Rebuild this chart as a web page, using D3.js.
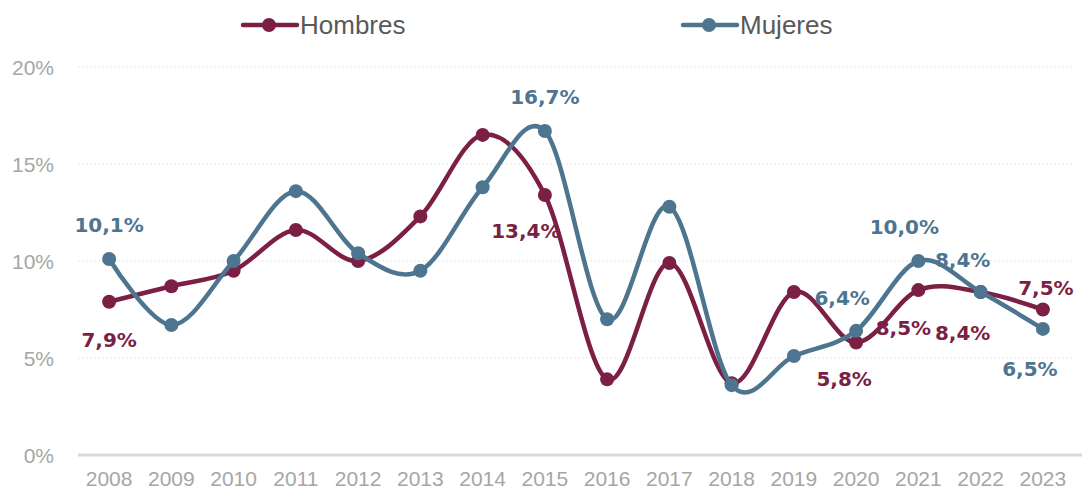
<!DOCTYPE html>
<html>
<head>
<meta charset="utf-8">
<script src="https://cdn.jsdelivr.net/npm/d3@7"></script>
<style>
  body { margin: 0; background: #fff; }
  svg text { font-family: "Liberation Sans", Arial, sans-serif; }
  svg text.dato { font-family: "DejaVu Sans", sans-serif; font-weight: bold; }
</style>
</head>
<body>
<div id="chart"></div>
<script>
// datos
var years = ["2008", "2009", "2010", "2011", "2012", "2013", "2014", "2015",
             "2016", "2017", "2018", "2019", "2020", "2021", "2022", "2023"];
var hombres = [7.9, 8.7, 9.5, 11.6, 10.0, 12.3, 16.5, 13.4, 3.9, 9.9, 3.7, 8.4, 5.8, 8.5, 8.4, 7.5];
var mujeres = [10.1, 6.7, 10.0, 13.6, 10.4, 9.5, 13.8, 16.7, 7.0, 12.8, 3.6, 5.1, 6.4, 10.0, 8.4, 6.5];
var yTicks = [0, 5, 10, 15, 20];

// etiquetas que se muestran (indice, dx, dy)
var labelsHombres = [[0, 0, 38], [7, -19, 36], [12, -12, 36], [13, -15, 38], [14, -18, 41], [15, 3, -22]];
var labelsMujeres = [[0, 0, -34], [7, 0, -34], [12, -14, -33], [13, -14, -34], [14, -18, -32], [15, -13, 40]];

var width = 1086, height = 494;
var margin = { top: 67, right: 12, bottom: 39, left: 78 };

var svg = d3.select("#chart").append("svg")
    .attr("width", width)
    .attr("height", height);

var x = d3.scaleBand()
    .domain(years)
    .range([margin.left, width - margin.right]);

var y = d3.scaleLinear()
    .domain([0, 20])
    .range([height - margin.bottom, margin.top]);

var cx = function (i) { return x(years[i]) + x.bandwidth() / 2; };

// grid
svg.append("g").selectAll("line")
    .data(yTicks.filter(function (d) { return d > 0; }))
    .enter().append("line")
    .attr("x1", margin.left).attr("x2", width - margin.right)
    .attr("y1", function (d) { return y(d); }).attr("y2", function (d) { return y(d); })
    .attr("stroke", "#e6e6e6")
    .attr("stroke-width", 1)
    .attr("stroke-dasharray", "2,2");

// eje y
svg.append("g").selectAll("text")
    .data(yTicks)
    .enter().append("text")
    .attr("x", 54)
    .attr("y", function (d) { return y(d); })
    .attr("dy", "0.36em")
    .attr("text-anchor", "end")
    .attr("font-size", "21px")
    .attr("fill", "#a6a6a6")
    .text(function (d) { return d + "%"; });

// linea base
svg.append("line")
    .attr("x1", margin.left).attr("x2", width - 4)
    .attr("y1", y(0)).attr("y2", y(0))
    .attr("stroke", "#d9d9d9")
    .attr("stroke-width", 3);

// eje x
svg.append("g").selectAll("text")
    .data(years)
    .enter().append("text")
    .attr("x", function (d, i) { return cx(i); })
    .attr("y", 486)
    .attr("text-anchor", "middle")
    .attr("font-size", "21px")
    .attr("fill", "#a6a6a6")
    .text(function (d) { return d; });

var series = [
    { name: "Hombres", values: hombres, color: "#7b1f45", labels: labelsHombres, lx: 243 },
    { name: "Mujeres", values: mujeres, color: "#4e7590", labels: labelsMujeres, lx: 683 }
];

var line = d3.line()
    .x(function (d, i) { return cx(i); })
    .y(function (d) { return y(d); })
    .curve(d3.curveCardinal.tension(0));

series.forEach(function (s) {
    svg.append("path")
        .datum(s.values)
        .attr("d", line)
        .attr("fill", "none")
        .attr("stroke", s.color)
        .attr("stroke-width", 4.5)
        .attr("stroke-linecap", "round");

    svg.append("g").selectAll("circle")
        .data(s.values)
        .enter().append("circle")
        .attr("cx", function (d, i) { return cx(i); })
        .attr("cy", function (d) { return y(d); })
        .attr("r", 7)
        .attr("fill", s.color);
});

series.forEach(function (s) {
    svg.append("g").selectAll("text")
        .data(s.labels)
        .enter().append("text")
        .attr("class", "dato")
        .attr("x", function (d) { return cx(d[0]) + d[1]; })
        .attr("y", function (d) { return y(s.values[d[0]]) + d[2]; })
        .attr("dy", "0.36em")
        .attr("text-anchor", "middle")
        .attr("font-size", "20px")
        .attr("fill", s.color)
        .text(function (d) { return s.values[d[0]].toFixed(1).replace(".", ",") + "%"; });

    // leyenda
    var lg = svg.append("g");
    lg.append("line")
        .attr("x1", s.lx).attr("x2", s.lx + 54)
        .attr("y1", 25).attr("y2", 25)
        .attr("stroke", s.color)
        .attr("stroke-width", 4.5)
        .attr("stroke-linecap", "round");
    lg.append("circle")
        .attr("cx", s.lx + 26).attr("cy", 25).attr("r", 7)
        .attr("fill", s.color);
    lg.append("text")
        .attr("x", s.lx + 57).attr("y", 25)
        .attr("dy", "0.36em")
        .attr("font-size", "26px")
        .attr("fill", "#595959")
        .text(s.name);
});
</script>
</body>
</html>
